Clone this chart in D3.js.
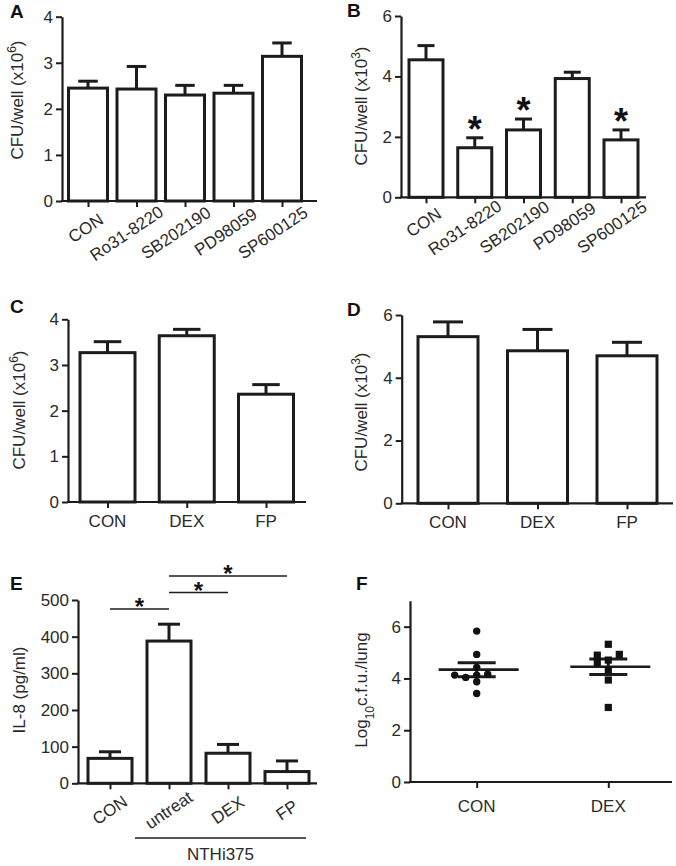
<!DOCTYPE html>
<html><head><meta charset="utf-8">
<script src="https://cdn.jsdelivr.net/npm/d3@7"></script>
<style>
body{margin:0;background:#fff;}
svg{display:block;font-family:"Liberation Sans",Arial,Helvetica,sans-serif;}
</style></head><body>
<svg id="fig" width="676" height="866"></svg>
<script>
// ---------------- data ----------------
const catsA = ["CON","Ro31-8220","SB202190","PD98059","SP600125"];
const valsA = [2.45, 2.43, 2.30, 2.34, 3.14];
const errA  = [0.15, 0.49, 0.21, 0.17, 0.29];
const catsB = ["CON","Ro31-8220","SB202190","PD98059","SP600125"];
const valsB = [4.55, 1.64, 2.23, 3.93, 1.90];
const errB  = [0.47, 0.33, 0.36, 0.21, 0.33];
const sigB  = [false, true, true, false, true];
const catsC = ["CON","DEX","FP"];
const valsC = [3.27, 3.64, 2.36];
const errC  = [0.24, 0.14, 0.21];
const catsD = ["CON","DEX","FP"];
const valsD = [5.31, 4.86, 4.70];
const errD  = [0.47, 0.68, 0.43];
const catsE = ["CON","untreat","DEX","FP"];
const valsE = [68, 388, 82, 32];
const errE  = [18, 46, 24, 29];
const sigPairsE = [["CON","untreat"],["untreat","DEX"],["untreat","FP"]];
const groupLabelE = "NTHi375";
const catsF = ["CON","DEX"];
const ptsCON = [5.83, 4.93, 4.43, 4.13, 4.04, 4.16, 4.13, 3.87, 3.42];
const ptsDEX = [5.32, 4.71, 4.90, 4.93, 4.62, 4.32, 3.94, 2.88];
const meanF = [4.34, 4.45];
const semF  = [0.27, 0.30];
const ticksA = [0,1,2,3,4];
const ticksB = [0,2,4,6];
const ticksC = [0,1,2,3,4];
const ticksD = [0,2,4,6];
const ticksE = [0,100,200,300,400,500];
const ticksF = [0,2,4,6];

// ---------------- drawing ----------------
const svg = d3.select("#fig");
const INK = "#1c1c1c", TXT = "#2a2a2a";
const ANG = 34, rad = ANG*Math.PI/180;

function yAxis(g, y, ax, ticks){
  const a = g.append("g").attr("transform",`translate(${ax},0)`)
    .call(d3.axisLeft(y).tickValues(ticks).tickFormat(d3.format("d")).tickSize(6).tickSizeOuter(0).tickPadding(3));
  a.select(".domain").attr("stroke",INK).attr("stroke-width",2.2);
  a.selectAll(".tick line").attr("stroke",INK).attr("stroke-width",2);
  a.selectAll(".tick text").attr("fill",TXT).attr("font-size",17).attr("font-family",null);
  return a;
}
function xAxis(g, x, ax, xEnd, y0){
  const a = g.append("g").attr("transform",`translate(0,${y0})`)
    .call(d3.axisBottom(x).tickSize(6).tickSizeOuter(0).tickFormat(""));
  a.select(".domain").remove();
  a.selectAll(".tick line").attr("stroke",INK).attr("stroke-width",2);
  g.append("line").attr("x1",ax-1).attr("x2",xEnd).attr("y1",y0).attr("y2",y0)
    .attr("stroke",INK).attr("stroke-width",2.2);
}
function yLabel(g, x, yc, parts){
  const t = g.append("text").attr("transform",`translate(${x},${yc}) rotate(-90)`)
    .attr("text-anchor","middle").attr("font-size",17).attr("fill",TXT);
  parts.forEach(p=>{
    const s = t.append("tspan").text(p.t);
    if(p.sup){ s.attr("font-size",12).attr("baseline-shift","super"); }
    if(p.sub){ s.attr("font-size",12).attr("baseline-shift","sub"); }
  });
}
function letter(x,y,t){
  svg.append("text").attr("x",x).attr("y",y).attr("font-size",19).attr("font-weight","bold")
    .attr("fill","#111").text(t);
}
function rotLabels(g, x, cats, y0, k, t0, dyc){
  cats.forEach(c=>{
    const t = g.append("text").attr("text-anchor","middle").attr("dominant-baseline","central")
      .attr("font-size",17).attr("fill",TXT).text(c);
    const L = t.node().getComputedTextLength();
    const s = k*L + t0;
    const px = x(c) - s*Math.cos(rad), py = y0 + dyc + s*Math.sin(rad);
    t.attr("transform",`translate(${px},${py}) rotate(${-ANG})`);
  });
}
function flatLabels(g, x, cats, yb){
  g.selectAll(null).data(cats).join("text").attr("x",d=>x(d)).attr("y",yb)
    .attr("text-anchor","middle").attr("font-size",17).attr("fill",TXT).text(d=>d);
}

function barPanel(cfg, cats, vals, errs, ticks){
  const g = svg.append("g");
  const y = d3.scaleLinear().domain([0,cfg.max]).range([cfg.y0,cfg.y1]);
  const x = d3.scalePoint().domain(cats).range([cfg.c0,cfg.c1]);
  const data = cats.map((c,i)=>({c, v:vals[i], e:errs[i]}));
  g.selectAll(null).data(data).join("line")
    .attr("x1",d=>x(d.c)).attr("x2",d=>x(d.c)).attr("y1",d=>y(d.v)).attr("y2",d=>y(d.v+d.e))
    .attr("stroke",INK).attr("stroke-width",3);
  g.selectAll(null).data(data).join("line")
    .attr("x1",d=>x(d.c)-cfg.bw/4).attr("x2",d=>x(d.c)+cfg.bw/4)
    .attr("y1",d=>y(d.v+d.e)).attr("y2",d=>y(d.v+d.e))
    .attr("stroke",INK).attr("stroke-width",3);
  g.selectAll(null).data(data).join("rect")
    .attr("x",d=>x(d.c)-cfg.bw/2).attr("width",cfg.bw)
    .attr("y",d=>y(d.v)).attr("height",d=>cfg.y0-y(d.v))
    .attr("fill","#fff").attr("stroke",INK).attr("stroke-width",3);
  yAxis(g, y, cfg.ax, ticks);
  xAxis(g, x, cfg.ax, cfg.xEnd, cfg.y0);
  return {g, x, y, data};
}

// Panel A
letter(10,18,"A");
const pA = barPanel({ax:62,y0:201,y1:16.7,max:4,c0:88,c1:282,bw:39,xEnd:317}, catsA, valsA, errA, ticksA);
rotLabels(pA.g, pA.x, catsA, 201, 0.2, -5, 26);
yLabel(pA.g, 23, 100, [{t:"CFU/well (x10"},{t:"6",sup:true},{t:")"}]);

// Panel B
letter(347,17,"B");
const pB = barPanel({ax:401,y0:197.3,y1:16,max:6,c0:426,c1:621,bw:34,xEnd:646}, catsB, valsB, errB, ticksB);
rotLabels(pB.g, pB.x, catsB, 197.3, 0.2, -5, 24);
yLabel(pB.g, 367, 106, [{t:"CFU/well (x10"},{t:"3",sup:true},{t:")"}]);
pB.g.selectAll(null).data(pB.data.filter((d,i)=>sigB[i])).join("text")
  .attr("x",d=>pB.x(d.c)).attr("y",d=>pB.y(d.v+d.e)+4)
  .attr("text-anchor","middle").attr("font-size",36).attr("font-weight","bold").attr("fill","#111").text("*");

// Panel C
letter(10,313,"C");
const pC = barPanel({ax:68,y0:502,y1:319.3,max:4,c0:107.5,c1:266,bw:55,xEnd:306}, catsC, valsC, errC, ticksC);
flatLabels(pC.g, pC.x, catsC, 527);
yLabel(pC.g, 25, 410, [{t:"CFU/well (x10"},{t:"6",sup:true},{t:")"}]);

// Panel D
letter(347,316,"D");
const pD = barPanel({ax:401.7,y0:503.3,y1:315,max:6,c0:448,c1:627,bw:60,xEnd:673}, catsD, valsD, errD, ticksD);
flatLabels(pD.g, pD.x, catsD, 528);
yLabel(pD.g, 367, 412, [{t:"CFU/well (x10"},{t:"3",sup:true},{t:")"}]);

// Panel E
letter(10,590,"E");
const pE = barPanel({ax:78,y0:783.3,y1:600,max:500,c0:110,c1:287,bw:44,xEnd:317}, catsE, valsE, errE, ticksE);
rotLabels(pE.g, pE.x, catsE, 783.3, 0, 0, 27);
yLabel(pE.g, 25, 690, [{t:"IL-8 (pg/ml)"}]);
sigPairsE.forEach((p,i)=>{
  const yl = pE.y(500) + 9 - i*16.5;
  const xa = pE.x(p[0]), xb = pE.x(p[1]);
  pE.g.append("line").attr("x1",xa).attr("x2",xb).attr("y1",yl).attr("y2",yl)
    .attr("stroke",INK).attr("stroke-width",1.6);
  pE.g.append("text").attr("x",(xa+xb)/2).attr("y",yl+6).attr("text-anchor","middle")
    .attr("font-size",24).attr("font-weight","bold").attr("fill","#111").text("*");
});
{
  const xl = pE.x("untreat")-34, xr = pE.x("FP")+19;
  pE.g.append("line").attr("x1",xl).attr("x2",xr).attr("y1",838).attr("y2",838)
    .attr("stroke",INK).attr("stroke-width",1.4);
  pE.g.append("text").attr("x",(xl+xr)/2).attr("y",860).attr("text-anchor","middle")
    .attr("font-size",17).attr("fill",TXT).text(groupLabelE);
}

// Panel F
letter(356,590,"F");
{
  const g = svg.append("g");
  const y0 = 782, ax = 410;
  const y = d3.scaleLinear().domain([0,7]).range([y0,600.8]);
  const x = d3.scalePoint().domain(catsF).range([476.7,608.3]);
  yAxis(g, y, ax, ticksF);
  xAxis(g, x, ax, 672, y0);
  flatLabels(g, x, catsF, 812);
  yLabel(g, 367, 690, [{t:"Log"},{t:"10",sub:true},{t:"c.f.u./lung"}]);
  function swarm(vals, cx){
    const placed = [], step = 11, thr = 6.5;
    vals.forEach(v=>{
      const py = y(v);
      for(let k=0;k<20;k++){
        const off = k===0?0:(k%2===1?-1:1)*Math.ceil(k/2)*step;
        const px = cx+off;
        if(placed.every(p=>Math.hypot(p.x-px,p.y-py)>=thr)){ placed.push({x:px,y:py}); break; }
      }
    });
    return placed;
  }
  const sC = swarm(ptsCON, x("CON"));
  const sD = swarm(ptsDEX, x("DEX"));
  catsF.forEach((c,i)=>{
    const cx = x(c);
    g.append("line").attr("x1",cx-38).attr("x2",cx+42).attr("y1",y(meanF[i])).attr("y2",y(meanF[i]))
      .attr("stroke",INK).attr("stroke-width",2.6);
    [meanF[i]+semF[i], meanF[i]-semF[i]].forEach(v=>{
      g.append("line").attr("x1",cx-19).attr("x2",cx+19).attr("y1",y(v)).attr("y2",y(v))
        .attr("stroke",INK).attr("stroke-width",3);
    });
    g.append("line").attr("x1",cx).attr("x2",cx).attr("y1",y(meanF[i]+semF[i])).attr("y2",y(meanF[i]-semF[i]))
      .attr("stroke",INK).attr("stroke-width",3);
  });
  g.selectAll(null).data(sC).join("circle").attr("cx",d=>d.x).attr("cy",d=>d.y).attr("r",3.7).attr("fill","#111");
  g.selectAll(null).data(sD).join("rect").attr("x",d=>d.x-3.6).attr("y",d=>d.y-3.6)
    .attr("width",7.2).attr("height",7.2).attr("fill","#111");
}
</script>
</body></html>
